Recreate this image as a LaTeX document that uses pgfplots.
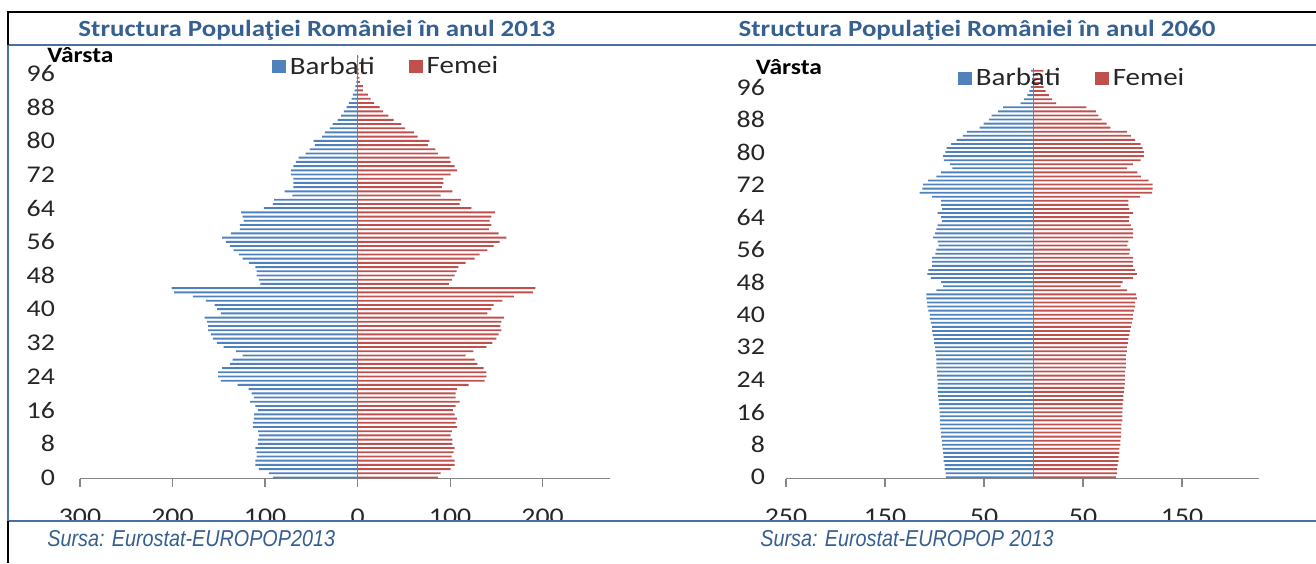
\documentclass[border=0pt]{standalone}
\usepackage{fontspec}
\setmainfont{Carlito}[FakeStretch=1.16]
\newfontfamily\srcfont{Liberation Sans}
\usepackage{pgfplots}
\pgfplotsset{compat=1.18}
\usepackage{pgfplotstable}

\definecolor{mblue}{HTML}{4F81BD}
\definecolor{fred}{HTML}{C0504D}
\definecolor{titleblue}{HTML}{366092}
\definecolor{srcblue}{HTML}{365F91}
\definecolor{lineblue}{HTML}{4A6FA0}
\definecolor{axgray}{HTML}{868686}

% Romania 2013 (thousands): age, men (negative), women
\pgfplotstableread{
age m f
0 -91.5 86.8
1 -95.9 89.7
2 -106.7 100.5
3 -110.6 104.9
4 -110.6 104.9
5 -109.2 101.6
6 -109.2 103.8
7 -110.6 104.9
8 -107.7 102.3
9 -107.7 102.3
10 -106.7 100.5
11 -107.4 102.0
12 -113.2 107.7
13 -113.2 105.9
14 -112.1 107.7
15 -111.7 104.9
16 -107.7 103.1
17 -110.6 105.9
18 -116.4 110.3
19 -112.1 105.9
20 -114.6 105.9
21 -117.8 107.7
22 -129.7 120.0
23 -147.7 137.3
24 -150.6 139.1
25 -150.6 139.1
26 -146.3 136.2
27 -138.0 129.4
28 -135.1 126.5
29 -124.3 116.8
30 -131.5 125.0
31 -144.9 139.1
32 -152.1 145.6
33 -156.4 149.9
34 -158.2 152.4
35 -161.4 155.3
36 -161.4 154.2
37 -162.5 155.3
38 -165.4 158.2
39 -147.7 140.2
40 -151.7 144.5
41 -154.6 147.0
42 -164.0 156.4
43 -178.0 169.0
44 -198.2 189.5
45 -201.1 192.1
46 -105.2 98.7
47 -106.7 102.0
48 -109.2 104.9
49 -109.2 107.0
50 -110.6 108.8
51 -117.5 116.8
52 -124.3 126.5
53 -128.3 131.9
54 -134.1 140.2
55 -138.0 147.0
56 -142.3 153.5
57 -146.3 160.7
58 -136.9 152.4
59 -127.2 142.0
60 -127.2 144.5
61 -123.2 142.7
62 -124.3 144.5
63 -125.8 148.5
64 -101.3 122.9
65 -91.5 110.3
66 -90.1 111.7
67 -70.6 89.7
68 -78.9 102.3
69 -69.5 91.2
70 -69.5 92.6
71 -69.5 92.6
72 -72.1 100.5
73 -72.1 107.7
74 -69.5 104.9
75 -66.7 100.5
76 -63.8 99.5
77 -56.2 86.8
78 -51.9 84.0
79 -46.1 76.0
80 -47.6 77.5
81 -38.2 64.9
82 -35.3 60.9
83 -29.9 51.5
84 -27.0 47.2
85 -21.6 38.9
86 -17.7 33.2
87 -14.8 27.7
88 -11.9 23.8
89 -9.4 18.0
90 -6.5 14.1
91 -5.0 11.2
92 -3.2 5.8
93 -2.5 5.8
94 -1.4 2.5
95 -1.0 2.0
96 -0.6 1.4
97 -0.4 1.0
98 -0.3 0.7
99 -0.2 0.5
100 -0.3 0.8
}\dataA

% Romania 2060 projection
\pgfplotstableread{
age m f
0 -88.4 83.3
1 -88.8 84.4
2 -89.8 84.4
3 -89.8 85.0
4 -90.8 86.0
5 -90.8 86.0
6 -91.2 86.7
7 -91.8 86.7
8 -92.2 87.8
9 -92.5 87.8
10 -93.2 88.4
11 -93.5 88.4
12 -94.2 88.8
13 -94.6 88.8
14 -94.6 89.8
15 -94.6 89.8
16 -94.9 89.8
17 -95.2 90.1
18 -95.6 90.1
19 -95.9 90.8
20 -96.3 90.8
21 -96.6 91.2
22 -96.9 91.8
23 -96.9 92.2
24 -96.9 92.2
25 -97.3 92.5
26 -97.3 92.5
27 -98.0 93.2
28 -98.0 93.2
29 -98.0 93.2
30 -98.3 93.2
31 -99.0 94.2
32 -99.3 94.2
33 -100.3 95.2
34 -100.7 95.8
35 -101.7 96.9
36 -102.4 97.6
37 -102.4 98.3
38 -103.7 99.3
39 -104.8 100.3
40 -104.8 100.3
41 -106.1 101.4
42 -107.1 102.7
43 -107.5 102.7
44 -108.2 104.4
45 -108.2 103.7
46 -98.0 94.6
47 -91.2 88.1
48 -93.2 90.1
49 -103.7 100.7
50 -107.1 104.4
51 -106.1 102.7
52 -102.4 100.7
53 -102.4 100.7
54 -102.4 100.7
55 -99.0 96.9
56 -98.0 97.6
57 -95.9 94.9
58 -96.9 95.9
59 -101.4 100.7
60 -99.3 100.7
61 -98.0 100.7
62 -96.9 98.3
63 -92.2 96.3
64 -93.2 96.9
65 -96.9 100.7
66 -92.2 96.9
67 -93.2 95.9
68 -93.2 95.9
69 -102.4 107.8
70 -115.0 119.7
71 -112.2 120.4
72 -111.6 120.4
73 -106.5 116.3
74 -98.0 108.5
75 -93.5 104.8
76 -82.0 94.6
77 -84.4 100.3
78 -90.5 108.2
79 -91.2 111.6
80 -89.1 111.6
81 -87.8 110.2
82 -83.3 108.2
83 -77.6 102.7
84 -71.4 98.3
85 -67.3 94.6
86 -54.4 77.6
87 -50.3 73.8
88 -45.2 68.7
89 -42.2 65.6
90 -36.1 62.9
91 -30.6 53.4
92 -12.9 22.8
93 -9.5 18.7
94 -6.1 15.6
95 -4.1 12.2
96 -2.7 10.2
97 -2.0 7.5
98 -1.4 6.0
99 -1.0 5.0
100 -2.5 10.0
}\dataB

\pgfplotsset{
  pyr/.style={
    scale only axis,
    anchor=south west,
    xbar, bar width=0.45, bar shift=0pt,
    axis x line*=bottom,
    axis y line*=left,
    y axis line style={draw=none},
    x axis line style={draw=axgray, line width=0.6pt},
    tick align=outside,
    major tick length=4pt,
    xtick style={draw=axgray, line width=0.6pt},
    ytick style={draw=none},
    ytick={0,8,...,96},
    tick label style={font=\fontsize{12}{14}\selectfont, text=black!85},
    x tick label style={inner sep=0pt, yshift=-10.8pt},
    /pgf/number format/assume math mode=true,
    extra x ticks={0},
    extra x tick labels={},
    extra x tick style={grid=major, major grid style={draw=axgray, line width=0.6pt}, xtick style={draw=none}},
    legend columns=2,
    legend style={draw=none, fill=none, anchor=west,
      font=\fontsize{12.5}{14}\selectfont, text=black!85,
      /tikz/every even column/.append style={column sep=15pt}},
    sqlegend/.style={legend image code/.code={\fill[##1] (0pt,-3.3pt) rectangle (7pt,3.3pt);}},
  }
}

\begin{document}
\begin{tikzpicture}
\useasboundingbox (0,0) rectangle (658pt,281.5pt);

% ---- chart 2013
\begin{axis}[pyr,
  at={(40pt,42.12pt)},
  width=265pt, height=211.67pt,
  xmin=-300, xmax=272.8, ymin=-0.3, ymax=100.3,
  xtick={-300,-200,-100,0,100,200},
  xticklabels={300,200,100,0,100,200},
  y tick label style={xshift=-5pt},
  legend style={at={(0.35,0.973)}},
]
\addplot[fill=mblue, draw=none, sqlegend] table[x=m, y=age] {\dataA};
\addlegendentry{Barbati}
\addplot[fill=fred, draw=none, sqlegend] table[x=f, y=age] {\dataA};
\addlegendentry{Femei}
\end{axis}

% ---- chart 2060
\begin{axis}[pyr,
  at={(393pt,42.25pt)},
  width=236.5pt, height=205.1pt,
  xmin=-250, xmax=227.8, ymin=-0.3, ymax=100.6,
  xtick={-250,-150,-50,50,150},
  xticklabels={250,150,50,50,150},
  y tick label style={xshift=-3pt},
  legend style={at={(0.35,0.976)}},
]
\addplot[fill=mblue, draw=none, sqlegend] table[x=m, y=age] {\dataB};
\addlegendentry{Barbati}
\addplot[fill=fred, draw=none, sqlegend] table[x=f, y=age] {\dataB};
\addlegendentry{Femei}
\end{axis}

% cover lower edge of tick labels (as in the reference)
\fill[white] (4pt,0pt) rectangle (658pt,20.75pt);

% frame
\draw[black, line width=1pt] (3.5pt,275.5pt) -- (658pt,275.5pt);
\draw[lineblue, line width=0.6pt] (3.5pt,259pt) -- (658pt,259pt);
\draw[lineblue, line width=0.6pt] (3.5pt,21pt) -- (658pt,21pt);
\draw[black, line width=1pt] (4pt,276pt) -- (4pt,259pt);
\draw[lineblue, line width=0.6pt] (4pt,259pt) -- (4pt,21pt);
\draw[black, line width=1pt] (4pt,21pt) -- (4pt,0pt);

% titles
\node[font=\bfseries\fontsize{11.6}{14}\selectfont, text=titleblue] at (158.4pt,266.5pt) {Structura Populaţiei României în anul 2013};
\node[font=\bfseries\fontsize{11.6}{14}\selectfont, text=titleblue] at (488.5pt,266.5pt) {Structura Populaţiei României în anul 2060};

% axis captions
\node[font=\bfseries\fontsize{11}{13}\selectfont] at (40.25pt,254pt) {Vârsta};
\node[font=\bfseries\fontsize{11}{13}\selectfont] at (394.5pt,248pt) {Vârsta};

% sources
\node[anchor=west, inner sep=0pt, text=srcblue] at (23.5pt,12pt) {\scalebox{0.86}[1]{\srcfont\itshape\fontsize{11.5}{13}\selectfont Sursa: Eurostat-EUROPOP2013}};
\node[anchor=west, inner sep=0pt, text=srcblue] at (380pt,12pt) {\scalebox{0.86}[1]{\srcfont\itshape\fontsize{11.5}{13}\selectfont Sursa: Eurostat-EUROPOP 2013}};
\end{tikzpicture}
\end{document}
